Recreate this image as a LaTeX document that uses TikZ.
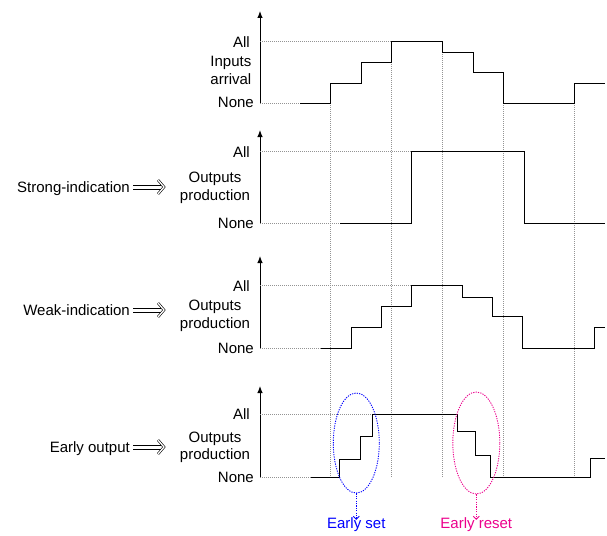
\documentclass[tikz,border=0pt]{standalone}
\usepackage{fontspec}
\setmainfont{Liberation Sans}
\usetikzlibrary{arrows.meta,shapes.geometric}
\newcommand\dblarrow[2]{%
  \draw[line width=0.7pt] ([yshift=2pt]#1) -- ([xshift=-4pt,yshift=2pt]#2)
                          ([yshift=-2pt]#1) -- ([xshift=-4pt,yshift=-2pt]#2);
  \draw[line width=0.6pt, double, double distance=1.3pt, line join=miter] ([xshift=-7pt,yshift=7pt]#2) -- ([xshift=-1pt]#2) -- ([xshift=-7pt,yshift=-7pt]#2);
}
\begin{document}
\begin{tikzpicture}[x=1pt,y=-1pt,
  lbl/.style={font=\fontsize{15}{18}\selectfont, inner sep=0pt, text height=10.8pt, text depth=0pt},
  axisline/.style={line width=1pt, -{Latex[length=7pt,width=5.5pt]}},
  sig/.style={line width=1pt, line join=miter},
  guide/.style={line width=0.8pt, gray!85, dash pattern=on 1pt off 1pt},
  setc/.style={line width=0.9pt, blue, dash pattern=on 1.2pt off 1.2pt},
  resetc/.style={line width=0.9pt, magenta, dash pattern=on 1.2pt off 1.2pt},
]
\useasboundingbox (0,0) rectangle (607,535);

% ---------- axes ----------
\coordinate (a1b) at (260,103);   \coordinate (a1t) at (260,11);
\coordinate (a2b) at (260,223.5); \coordinate (a2t) at (260,130);
\coordinate (a3b) at (260,348.3); \coordinate (a3t) at (260,256);
\coordinate (a4b) at (260,477.7); \coordinate (a4t) at (260,386);
\draw[axisline] (a1b) -- (a1t);
\draw[axisline] (a2b) -- (a2t);
\draw[axisline] (a3b) -- (a3t);
\draw[axisline] (a4b) -- (a4t);

% ---------- vertical guides ----------
\coordinate (g1t) at (330.5,103);  \coordinate (g1b) at (330.5,477.7);
\coordinate (g2t) at (391,62.3);   \coordinate (g2b) at (391,477.7);
\coordinate (g3t) at (442,52.3);   \coordinate (g3b) at (442,477.7);
\coordinate (g4t) at (503,103);    \coordinate (g4b) at (503,477.7);
\coordinate (g5t) at (574,103);    \coordinate (g5b) at (574,477.7);
\foreach \i in {1,...,5} {\draw[guide] (g\i t) -- (g\i b);}

% ---------- horizontal guides ----------
\coordinate (h1a) at (391,41.7);  \coordinate (h1n) at (300,103);
\coordinate (h2a) at (411.5,151.7); \coordinate (h2n) at (340,223.5);
\coordinate (h3a) at (411.7,285.7); \coordinate (h3n) at (320.7,348.3);
\coordinate (h4a) at (372,414);   \coordinate (h4n) at (311,477.7);
\draw[guide] (260,41.7) -- (h1a);  \draw[guide] (a1b) -- (h1n);
\draw[guide] (260,151.7) -- (h2a); \draw[guide] (a2b) -- (h2n);
\draw[guide] (260,285.7) -- (h3a); \draw[guide] (a3b) -- (h3n);
\draw[guide] (260,414) -- (h4a);   \draw[guide] (a4b) -- (h4n);

% ---------- signals ----------
\draw[sig] (h1n) -- (330.5,103) -- (330.5,83.3) -- (361,83.3) -- (361,62.3) -- (391,62.3)
  -- (h1a) -- (442,41.7) -- (442,52.3) -- (473,52.3) -- (473,72.3) -- (503,72.3)
  -- (503,103) -- (574,103) -- (574,83.3) -- (605,83.3);
\draw[sig] (h2n) -- (411.5,223.5) -- (h2a) -- (524,151.7) -- (524,223.5) -- (605,223.5);
\draw[sig] (h3n) -- (351,348.3) -- (351,327.7) -- (381.5,327.7) -- (381.5,306.7) -- (411.7,306.7)
  -- (h3a) -- (462.3,285.7) -- (462.3,297.3) -- (492.7,297.3) -- (492.7,316.7) -- (522.7,316.7)
  -- (522.7,348.3) -- (594,348.3) -- (594,327.3) -- (605,327.3);
\draw[sig] (h4n) -- (339.3,477.7) -- (339.3,459) -- (360,459) -- (360,436.7) -- (372,436.7)
  -- (h4a) -- (457.3,414) -- (457.3,431) -- (475,431) -- (475,455) -- (490,455)
  -- (490,477.7) -- (590,477.7) -- (590,458) -- (605,458);

% ---------- axis labels ----------
\node[lbl, anchor=east] (all1) at (250,41.7) {All};
\node[lbl, anchor=east] (inp) at (251.5,61) {Inputs};
\node[lbl, anchor=east] (arr) at (251.5,79.5) {arrival};
\node[lbl, anchor=east] (non1) at (254,102) {None};

\node[lbl, anchor=east] (all2) at (250,151.7) {All};
\node[lbl] (out2) at (215,177.5) {Outputs};
\node[lbl] (pro2) at (215,195.5) {production};
\node[lbl, anchor=east] (non2) at (254,223) {None};

\node[lbl, anchor=east] (all3) at (250,285.7) {All};
\node[lbl] (out3) at (215,305) {Outputs};
\node[lbl] (pro3) at (215,323) {production};
\node[lbl, anchor=east] (non3) at (254,348) {None};

\node[lbl, anchor=east] (all4) at (250,414) {All};
\node[lbl] (out4) at (215,437) {Outputs};
\node[lbl] (pro4) at (215,454.5) {production};
\node[lbl, anchor=east] (non4) at (254,477) {None};

% ---------- left labels and double arrows ----------
\node[lbl, anchor=east] (strong) at (130,187) {Strong-indication};
\node[lbl, anchor=east] (weak) at (130,310) {Weak-indication};
\node[lbl, anchor=east] (early) at (130,447) {Early output};
\coordinate (s1) at (133,187); \coordinate (w1) at (133,310); \coordinate (e1) at (133,447);
\coordinate (s2) at (165,187); \coordinate (w2) at (165,310); \coordinate (e2) at (165,447);
\dblarrow{s1}{s2}
\dblarrow{w1}{w2}
\dblarrow{e1}{e2}

% ---------- early set / reset ----------
\node[setc, draw, ellipse, minimum width=46pt, minimum height=100pt, inner sep=0pt] (eset) at (356.3,443) {};
\node[resetc, draw, ellipse, minimum width=47pt, minimum height=102pt, inner sep=0pt] (ereset) at (476.3,443) {};
\node[lbl, blue] (tset) at (356.3,523.5) {Early set};
\node[lbl, magenta] (treset) at (476.3,523.5) {Early reset};
\draw[setc, -{Straight Barb[length=3pt,width=6pt]}] (eset.south) -- ([yshift=-2pt]tset.north);
\draw[resetc, -{Straight Barb[length=3pt,width=6pt]}] (ereset.south) -- ([yshift=-2pt]treset.north);
\end{tikzpicture}
\end{document}
